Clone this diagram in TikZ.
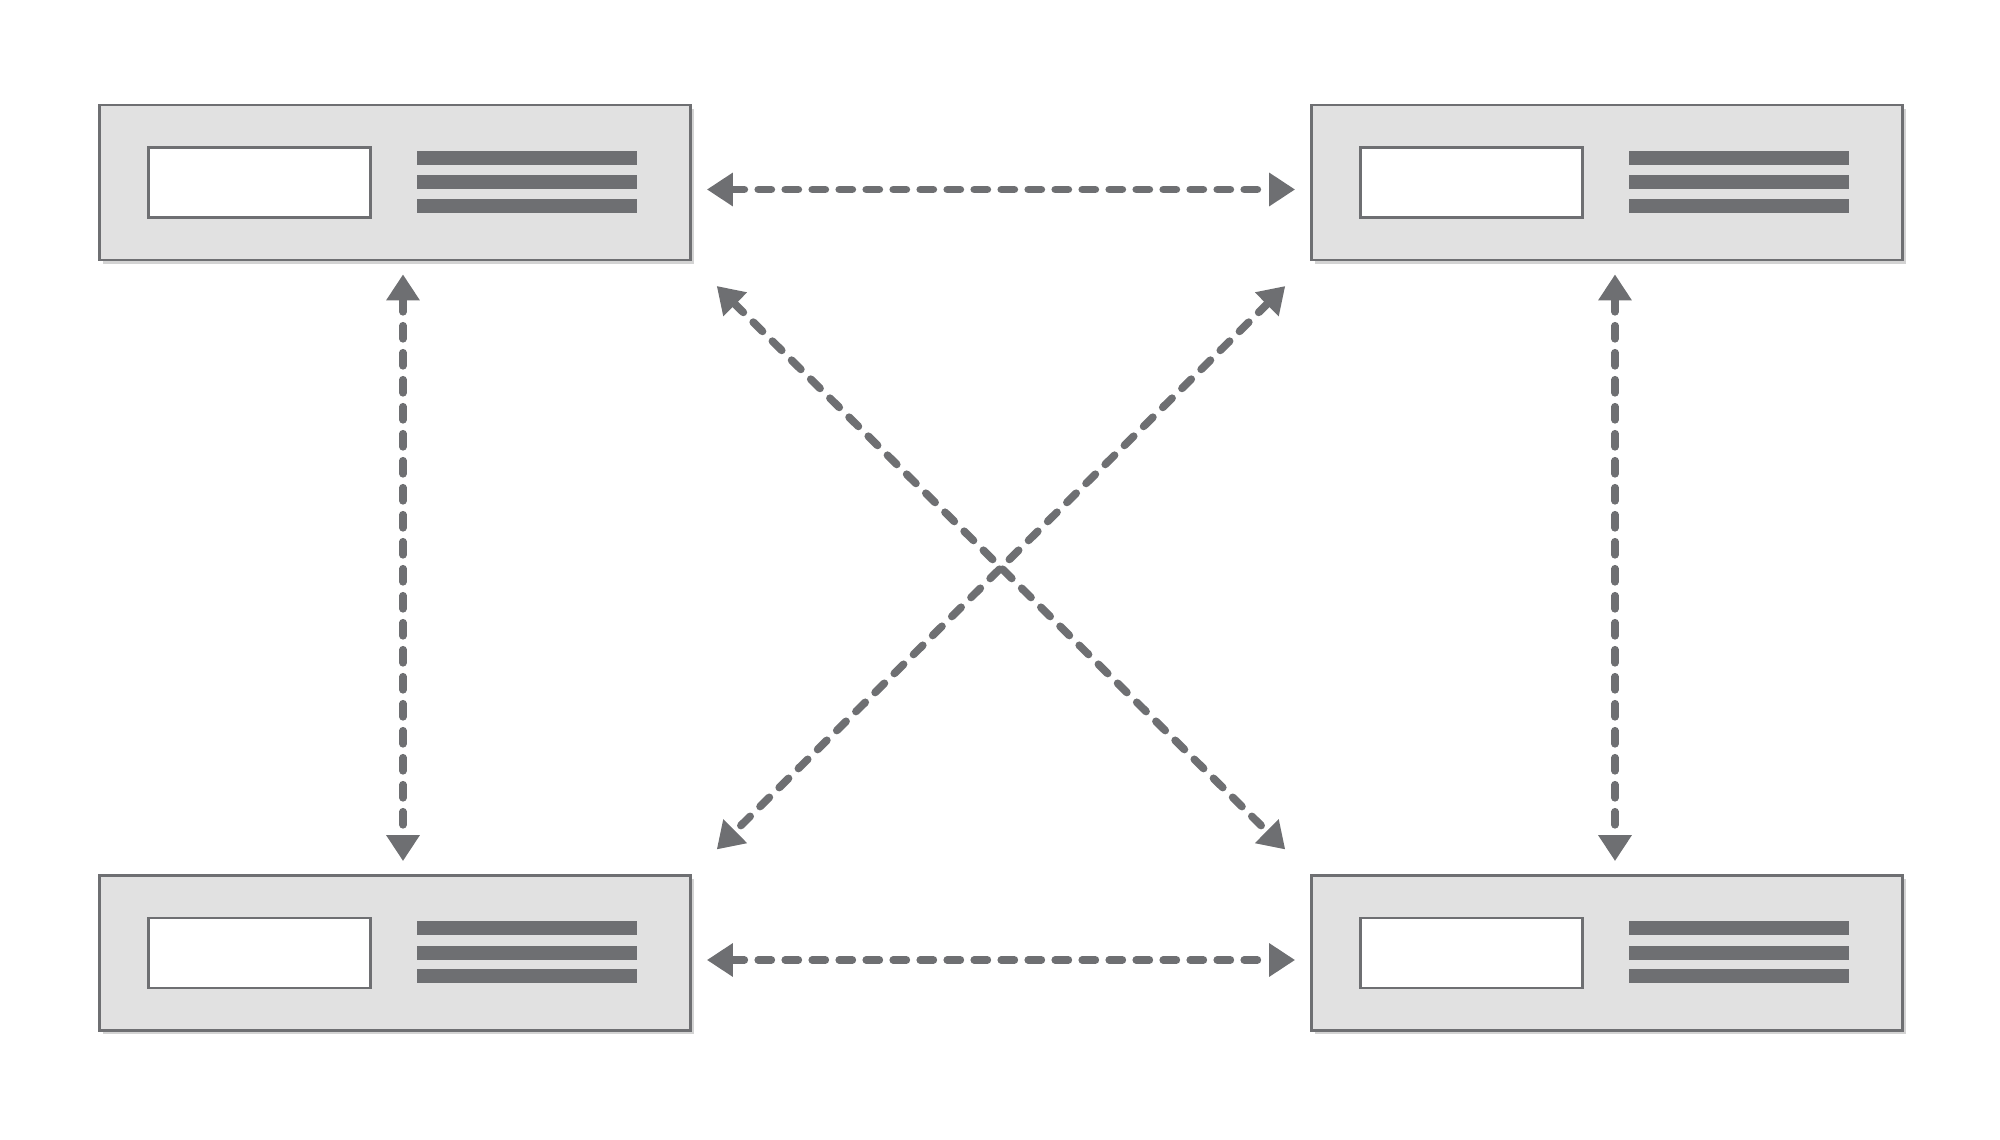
\documentclass[tikz,border=0pt]{standalone}
\usepackage{tikz}
\usetikzlibrary{arrows.meta,shadows,positioning}
\definecolor{boxgray}{RGB}{225,225,225}
\definecolor{edgegray}{RGB}{110,111,114}
\begin{document}
\begin{tikzpicture}[
    >={Triangle[width=0.32cm,length=0.26cm]},
    server/.style={
		rectangle,
		draw=edgegray,
		line width=0.8pt,
		fill=boxgray,
		minimum width=5.91cm,
		minimum height=1.55cm,
		drop shadow={shadow xshift=0.03cm,shadow yshift=-0.04cm,opacity=0.35}
	},
	slot/.style={
		rectangle,
		draw=edgegray,
		line width=0.8pt,
		fill=white,
		minimum width=2.22cm,
		minimum height=0.70cm
	},
	bar/.style={
		rectangle,
		fill=edgegray,
		inner sep=0pt,
		minimum width=2.2cm,
		minimum height=0.14cm
	},
	link/.style={
		<->,
		draw=edgegray,
		color=edgegray,
		line width=2.2pt,
		line cap=round,
		dash pattern=on 0.13cm off 0.14cm
	}
  ]
\useasboundingbox (0,0) rectangle (20,11.4);

% the four servers
\foreach \name/\x/\y in {tl/3.95/9.575, tr/16.07/9.575, bl/3.95/1.87, br/16.07/1.87}{
  \node [server] (\name) at (\x,\y) {};
  \node [slot] (\name slot) at (\x-1.355,\y) {};
  \node [bar] (\name bar1) at (\x+1.315,\y+0.245) {};
  \node [bar] (\name bar2) at (\x+1.315,\y) {};
  \node [bar] (\name bar3) at (\x+1.315,\y-0.235) {};
}

% links
\draw [link, shorten <=0.15cm, shorten >=0.15cm] ([yshift=-0.07cm]tl.east) -- ([yshift=-0.07cm]tr.west);
\draw [link, shorten <=0.15cm, shorten >=0.15cm] ([yshift=-0.07cm]bl.east) -- ([yshift=-0.07cm]br.west);
\draw [link, shorten <=0.13cm, shorten >=0.13cm] ([xshift=0.08cm]tl.south) -- ([xshift=0.08cm]bl.north);
\draw [link, shorten <=0.13cm, shorten >=0.13cm] ([xshift=0.08cm]tr.south) -- ([xshift=0.08cm]br.north);
\draw [link, shorten <=0.35cm, shorten >=0.35cm] (tl.south east) -- (br.north west);
\draw [link, shorten <=0.35cm, shorten >=0.35cm] (tr.south west) -- (bl.north east);

\end{tikzpicture}
\end{document}
